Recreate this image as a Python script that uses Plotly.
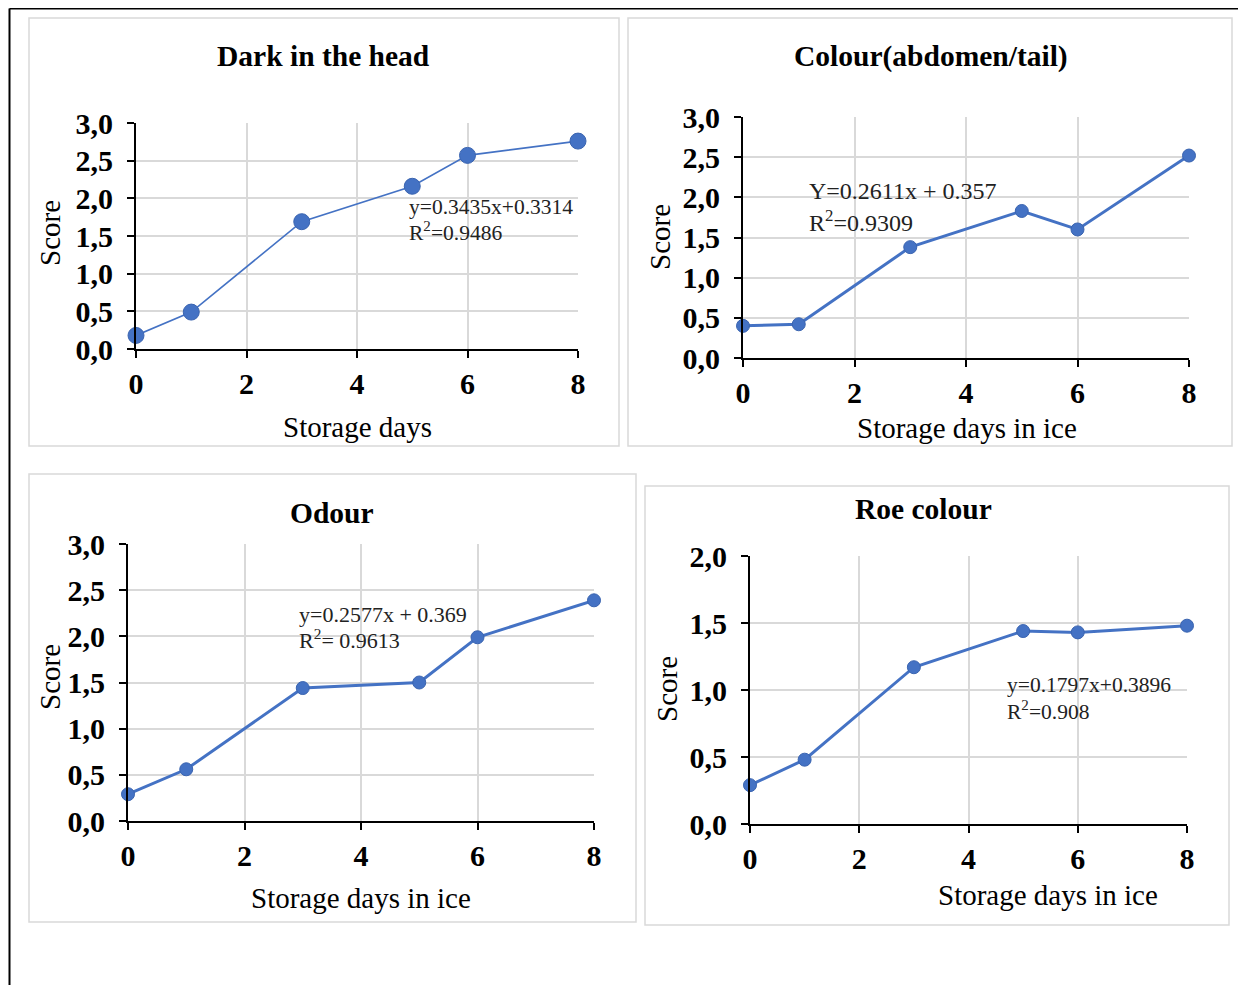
import plotly.graph_objects as go

# ---- data ----
days = [0, 1, 3, 5, 6, 8]
dark_head = [0.18, 0.49, 1.69, 2.16, 2.57, 2.76]
colour_tail = [0.40, 0.42, 1.38, 1.83, 1.60, 2.52]
odour = [0.29, 0.56, 1.44, 1.50, 1.99, 2.39]
roe_colour = [0.29, 0.48, 1.17, 1.44, 1.43, 1.48]

titles = ["Dark in the head", "Colour(abdomen/tail)", "Odour", "Roe colour"]
xtitles = ["Storage days", "Storage days in ice", "Storage days in ice", "Storage days in ice"]
ytitle = "Score"
eqs = ["y=0.3435x+0.3314", "Y=0.2611x + 0.357", "y=0.2577x + 0.369", "y=0.1797x+0.3896"]
r2s = ["R<sup>2</sup>=0.9486", "R<sup>2</sup>=0.9309", "R<sup>2</sup>= 0.9613", "R<sup>2</sup>=0.908"]
ymaxes = [3, 3, 3, 2]
series = [dark_head, colour_tail, odour, roe_colour]

# page has an 8px body margin: figure drawn at (8, 8); extend to window edges
OFF = 8
W, H = 1246, 985
def px(x):
    return (x - OFF) / W
def py(y):
    return 1 - (y - OFF) / H

FONT = "Liberation Serif, Times New Roman, serif"
BLUE = "#4472C4"
GRID = "#D9D9D9"

# plot-area pixel boxes (left, right, top, bottom) in screen pixels
areas = [(136, 578, 123, 349), (743, 1189, 117, 358), (128, 594, 544, 821), (750, 1187, 556, 824)]
boxes = [(29, 18, 619, 446), (628, 18, 1232, 446), (29, 474, 636, 922), (645, 486, 1229, 925)]
title_pos = [(323, 56), (931, 56), (332, 513), (923, 509)]
xtitle_pos = [(357, 427), (967, 428), (361, 898), (1048, 895)]
ytitle_pos = [(50, 233), (660, 237), (50, 677), (667, 689)]
eq_pos = [(407, 207, 231, 21.5), (807, 191, 221, 24), (297, 614, 639, 22), (1005, 685, 710, 21.5)]
line_w = [1.6, 3, 3, 3]
mark_s = [16, 13, 13, 13]

fig = go.Figure()
annotations = []
shapes = []
layout = {}

for i in range(4):
    n = "" if i == 0 else str(i + 1)
    l, r, t, b = areas[i]
    fig.add_trace(go.Scatter(
        x=days, y=series[i], mode="lines+markers",
        line=dict(color=BLUE, width=line_w[i]),
        marker=dict(color=BLUE, size=mark_s[i], line=dict(color="#3A64B0", width=1)),
        xaxis="x" + n, yaxis="y" + n, cliponaxis=False, showlegend=False,
    ))
    common = dict(
        showgrid=True, gridcolor=GRID, gridwidth=1.5,
        showline=True, linecolor="black", linewidth=2,
        ticks="outside", ticklen=7, tickwidth=1.5, tickcolor="black",
        tickfont=dict(family=FONT, size=30, color="black", weight="bold"),
        zeroline=False, fixedrange=True, automargin=False,
    )
    layout["xaxis" + n] = dict(common, domain=[px(l), px(r)], range=[0, 8], dtick=2, tick0=0,
                               anchor="y" + n, ticklabelstandoff=0)
    layout["yaxis" + n] = dict(common, domain=[py(b), py(t)], range=[0, ymaxes[i]], dtick=0.5,
                               tickformat=".1f", anchor="x" + n, ticklabelstandoff=8)
    bx0, by0, bx1, by1 = boxes[i]
    shapes.append(dict(type="rect", xref="paper", yref="paper",
                       x0=px(bx0), y0=py(by0), x1=px(bx1), y1=py(by1),
                       line=dict(color=GRID, width=1.5), layer="below"))
    tx, ty = title_pos[i]
    annotations.append(dict(text="<b>" + titles[i] + "</b>", x=px(tx), y=py(ty), xref="paper", yref="paper",
                            showarrow=False, xanchor="center", yanchor="middle",
                            font=dict(family=FONT, size=29.5, color="black")))
    ax, ay = xtitle_pos[i]
    annotations.append(dict(text=xtitles[i], x=px(ax), y=py(ay), xref="paper", yref="paper",
                            showarrow=False, xanchor="center", yanchor="middle",
                            font=dict(family=FONT, size=29, color="black")))
    sx, sy = ytitle_pos[i]
    annotations.append(dict(text=ytitle, x=px(sx), y=py(sy), xref="paper", yref="paper",
                            showarrow=False, xanchor="center", yanchor="middle", textangle=-90,
                            font=dict(family=FONT, size=29, color="black")))
    ex, ey1, ey2, fs = eq_pos[i]
    annotations.append(dict(text=eqs[i], x=px(ex), y=py(ey1), xref="paper", yref="paper",
                            showarrow=False, xanchor="left", yanchor="middle",
                            font=dict(family=FONT, size=fs, color="#222222")))
    annotations.append(dict(text=r2s[i], x=px(ex), y=py(ey2), xref="paper", yref="paper",
                            showarrow=False, xanchor="left", yanchor="middle",
                            font=dict(family=FONT, size=fs, color="#222222")))

# outer black frame (left and top edges)
shapes.append(dict(type="line", xref="paper", yref="paper", x0=px(9.5), y0=py(8.5), x1=px(9.5), y1=0,
                   line=dict(color="black", width=2)))
shapes.append(dict(type="line", xref="paper", yref="paper", x0=px(9.5), y0=py(8.5), x1=1, y1=py(8.5),
                   line=dict(color="black", width=2)))

fig.update_layout(
    width=W, height=H, margin=dict(l=0, r=0, t=0, b=0, autoexpand=False),
    paper_bgcolor="white", plot_bgcolor="white",
    separators=",.",
    font=dict(family=FONT, color="black"),
    annotations=annotations, shapes=shapes,
    **layout,
)

fig.write_html("out.html", config={"displayModeBar": False})
